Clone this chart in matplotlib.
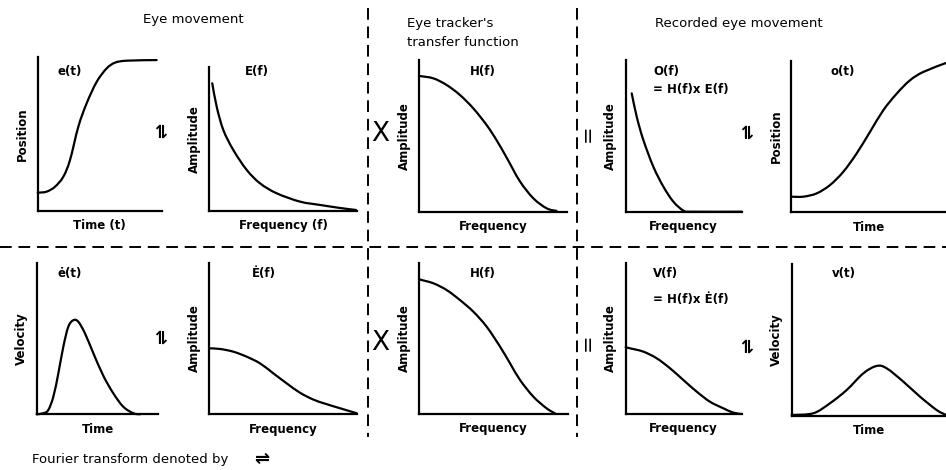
import matplotlib
matplotlib.use("Agg")
import matplotlib.pyplot as plt
from matplotlib.lines import Line2D
from matplotlib.path import Path
from matplotlib.patches import PathPatch

# curve shapes (normalised 0-1 within each panel)
pos_x = [0, 0.072, 0.139, 0.206, 0.26, 0.327, 0.394, 0.475, 0.555, 0.622, 0.716, 0.957]
pos_y = [0.117, 0.124, 0.156, 0.221, 0.33, 0.547, 0.699, 0.839, 0.926, 0.963, 0.976, 0.98]

E_x = [0.022, 0.052, 0.097, 0.164, 0.255, 0.345, 0.457, 0.615, 0.75, 0.885, 0.993]
E_y = [0.885, 0.722, 0.56, 0.422, 0.283, 0.19, 0.121, 0.063, 0.04, 0.019, 0.005]

H_x = [0, 0.097, 0.187, 0.277, 0.367, 0.457, 0.525, 0.593, 0.682, 0.773, 0.863, 0.93]
H_y = [0.895, 0.879, 0.835, 0.769, 0.681, 0.571, 0.47, 0.355, 0.2, 0.088, 0.022, 0.005]

O_x = [0.052, 0.095, 0.152, 0.238, 0.325, 0.411, 0.497, 0.555, 1.0]
O_y = [0.78, 0.626, 0.473, 0.297, 0.165, 0.066, 0.007, 0.0, 0.0]

opos_x = [0, 0.079, 0.166, 0.252, 0.338, 0.424, 0.51, 0.596, 0.683, 0.768, 0.854, 1.0]
opos_y = [0.103, 0.103, 0.125, 0.18, 0.268, 0.389, 0.531, 0.674, 0.784, 0.871, 0.926, 0.985]

vel_x = [0, 0.054, 0.095, 0.137, 0.178, 0.219, 0.26, 0.301, 0.342, 0.397, 0.466, 0.548, 0.63, 0.712, 0.795, 0.85]
vel_y = [0, 0.007, 0.028, 0.117, 0.271, 0.448, 0.58, 0.623, 0.613, 0.536, 0.404, 0.255, 0.139, 0.05, 0.007, 0]

Ed_x = [0, 0.074, 0.164, 0.254, 0.344, 0.434, 0.524, 0.614, 0.704, 0.783, 0.883, 0.996]
Ed_y = [0.435, 0.431, 0.413, 0.38, 0.336, 0.27, 0.204, 0.142, 0.097, 0.07, 0.04, 0.007]

H2_x = [0, 0.096, 0.186, 0.275, 0.365, 0.454, 0.544, 0.611, 0.678, 0.768, 0.857, 0.913]
H2_y = [0.89, 0.864, 0.819, 0.753, 0.676, 0.577, 0.445, 0.335, 0.225, 0.114, 0.037, 0.004]

V_x = [0, 0.037, 0.152, 0.267, 0.382, 0.497, 0.612, 0.727, 0.841, 0.928, 1.0]
V_y = [0.442, 0.435, 0.413, 0.369, 0.303, 0.225, 0.148, 0.081, 0.038, 0.009, 0]

ovel_x = [0, 0.14, 0.248, 0.356, 0.464, 0.551, 0.616, 0.724, 0.832, 0.94, 1.0]
ovel_y = [0.005, 0.016, 0.082, 0.169, 0.279, 0.328, 0.312, 0.224, 0.125, 0.037, 0.005]

W, H = 946, 470
fig = plt.figure(figsize=(W / 100, H / 100), dpi=100)
plt.rcParams['font.family'] = ['DejaVu Sans']


def smooth(xs, ys):
    # catmull-rom style bezier through the read points
    p = list(zip(xs, ys))
    n = len(p)
    verts = [p[0]]
    codes = [Path.MOVETO]
    for i in range(n - 1):
        p0 = p[i - 1] if i > 0 else p[i]
        p1, p2 = p[i], p[i + 1]
        p3 = p[i + 2] if i + 2 < n else p[i + 1]
        c1 = (p1[0] + (p2[0] - p0[0]) / 6, p1[1] + (p2[1] - p0[1]) / 6)
        c2 = (p2[0] - (p3[0] - p1[0]) / 6, p2[1] - (p3[1] - p1[1]) / 6)
        verts += [c1, c2, p2]
        codes += [Path.CURVE4] * 3
    return Path(verts, codes)


def panel(box, xs, ys, xlabel, ylabel):
    l, t, r, b = box
    ax = fig.add_axes([l / W, 1 - b / H, (r - l) / W, (b - t) / H])
    ax.add_patch(PathPatch(smooth(xs, ys), fill=False, ec='black', lw=1.6,
                           clip_on=False, capstyle='round'))
    ax.set_xlim(0, 1)
    ax.set_ylim(0, 1)
    ax.set_xticks([])
    ax.set_yticks([])
    for s in ['top', 'right']:
        ax.spines[s].set_visible(False)
    for s in ['left', 'bottom']:
        ax.spines[s].set_linewidth(1.6)
    ax.patch.set_alpha(0)
    ax.set_xlabel(xlabel, fontsize=8.5, fontweight='bold', labelpad=6)
    ax.set_ylabel(ylabel, fontsize=8.5, fontweight='bold', labelpad=6)
    return ax


def ftext(x, y, s, **kw):
    fig.text(x / W, 1 - y / H, s, **kw)


panel((37.7, 57, 162, 210.7), pos_x, pos_y, 'Time (t)', 'Position')
panel((209, 66.7, 357, 210.7), E_x, E_y, 'Frequency (f)', 'Amplitude')
panel((419, 60, 567, 211.7), H_x, H_y, 'Frequency', 'Amplitude')
panel((625.7, 60, 741.7, 211.7), O_x, O_y, 'Frequency', 'Amplitude')
panel((791, 60.7, 946, 212.3), opos_x, opos_y, 'Time', 'Position')

panel((36.7, 263.3, 158.3, 414.3), vel_x, vel_y, 'Time', 'Velocity')
panel((209, 262.7, 357.3, 414.3), Ed_x, Ed_y, 'Frequency', 'Amplitude')
panel((419, 262.7, 568, 414), H2_x, H2_y, 'Frequency', 'Amplitude')
panel((625.7, 263, 741.7, 414), V_x, V_y, 'Frequency', 'Amplitude')
panel((791.7, 264, 946, 415.7), ovel_x, ovel_y, 'Time', 'Velocity')

# panel names
bold = dict(fontsize=8.5, fontweight='bold', va='center', ha='left')
ftext(57, 72, 'e(t)', **bold)
ftext(245, 72, 'E(f)', **bold)
ftext(470, 72, 'H(f)', **bold)
ftext(653, 72, 'O(f)', **bold)
ftext(653, 90, '= H(f)x E(f)', **bold)
ftext(830, 72, 'o(t)', **bold)
ftext(57, 273, 'ė(t)', **bold)
ftext(252, 273, 'Ė(f)', **bold)
ftext(470, 273, 'H(f)', **bold)
ftext(653, 273, 'V(f)', **bold)
ftext(653, 300, '= H(f)x Ė(f)', **bold)
ftext(832, 273, 'v(t)', **bold)

# headings
head = dict(fontsize=9.5, va='center', ha='left')
ftext(143, 20, 'Eye movement', **head)
ftext(407, 23, "Eye tracker's", **head)
ftext(407, 43, 'transfer function', **head)
ftext(655, 23, 'Recorded eye movement', **head)
ftext(32, 460, 'Fourier transform denoted by', **head)
ftext(254, 459, '⇌', fontsize=13, fontweight='bold', va='center', ha='left')

# operators between panels
sym = dict(fontsize=13, fontweight='bold', va='center', ha='center', rotation=90)
for x, y in [(162, 130), (748, 131), (162, 336), (748, 345)]:
    ftext(x, y, '⇌', **sym)
for y in [134, 343]:
    ftext(380, y, 'X', fontsize=19, va='center', ha='center')
    ftext(588, y - 1, '=', fontsize=15, va='center', ha='center', rotation=90)

# dashed separators
dash = dict(color='black', lw=1.4, linestyle=(0, (6, 3.5)))
fig.add_artist(Line2D([0, 1], [1 - 247 / H, 1 - 247 / H], **dash))
for x in [368, 577]:
    fig.add_artist(Line2D([x / W, x / W], [1 - 8 / H, 1 - 437 / H], **dash))

fig.savefig('out.png', dpi=100)
